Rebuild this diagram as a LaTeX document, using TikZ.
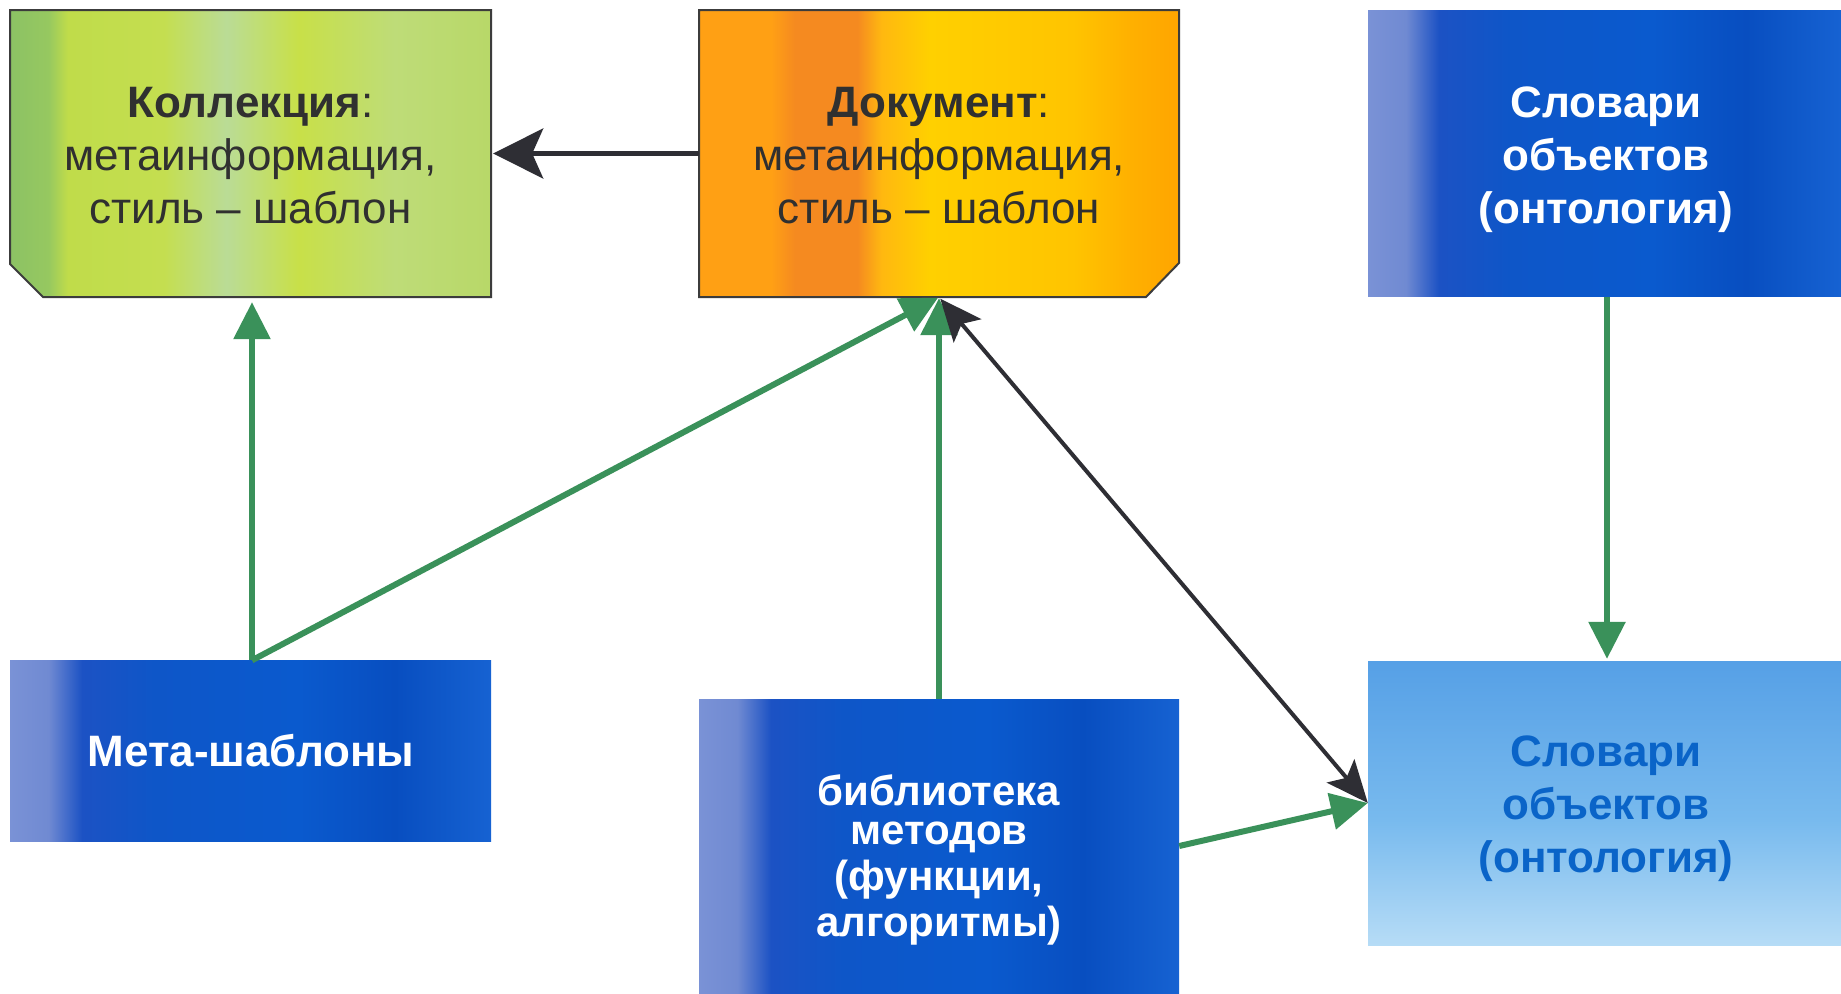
\documentclass[tikz,border=0pt]{standalone}
\usepackage{fontspec}
\setmainfont{Liberation Sans}
\usetikzlibrary{arrows.meta}
\definecolor{garrow}{RGB}{58,145,90}
\definecolor{darr}{RGB}{46,46,52}
\definecolor{bordc}{RGB}{60,60,60}
\definecolor{txtd}{RGB}{48,48,48}
\definecolor{txtl}{RGB}{10,100,200}
% blue
\definecolor{bA}{RGB}{122,146,214}
\definecolor{bB}{RGB}{112,138,210}
\definecolor{bC}{RGB}{28,82,196}
\definecolor{bD}{RGB}{14,86,200}
\definecolor{bE}{RGB}{10,90,206}
\definecolor{bF}{RGB}{8,78,192}
\definecolor{bG}{RGB}{22,98,210}
% green
\definecolor{gA}{RGB}{140,194,100}
\definecolor{gB}{RGB}{150,200,96}
\definecolor{gC}{RGB}{192,220,74}
\definecolor{gD}{RGB}{196,222,80}
\definecolor{gE}{RGB}{186,220,150}
\definecolor{gF}{RGB}{200,224,72}
\definecolor{gG}{RGB}{190,220,120}
\definecolor{gH}{RGB}{184,216,104}
% orange
\definecolor{oA}{RGB}{255,160,20}
\definecolor{oB}{RGB}{245,138,32}
\definecolor{oC}{RGB}{255,184,16}
\definecolor{oD}{RGB}{255,208,0}
\definecolor{oE}{RGB}{255,196,0}
\definecolor{oF}{RGB}{255,176,0}
\definecolor{oG}{RGB}{255,165,0}
% light blue
\definecolor{lA}{RGB}{182,220,246}
\definecolor{lB}{RGB}{120,186,238}
\definecolor{lC}{RGB}{86,160,230}
% stops mapped to 25bp..75bp (the part that covers the path)
\pgfdeclarehorizontalshading{bluesh}{100bp}{color(0bp)=(bA); color(25bp)=(bA); color(29bp)=(bB); color(32.5bp)=(bC); color(40bp)=(bD); color(55bp)=(bE); color(65bp)=(bF); color(75bp)=(bG); color(100bp)=(bG)}
\pgfdeclarehorizontalshading{greensh}{100bp}{color(0bp)=(gA); color(25bp)=(gA); color(29bp)=(gB); color(31bp)=(gC); color(41bp)=(gD); color(47.5bp)=(gE); color(55bp)=(gF); color(65bp)=(gG); color(75bp)=(gH); color(100bp)=(gH)}
\pgfdeclarehorizontalshading{orangesh}{100bp}{color(0bp)=(oA); color(25bp)=(oA); color(32.5bp)=(oA); color(35bp)=(oB); color(41.5bp)=(oB); color(44bp)=(oC); color(49bp)=(oD); color(64bp)=(oE); color(70bp)=(oF); color(75bp)=(oG); color(100bp)=(oG)}
\pgfdeclareverticalshading{lightsh}{100bp}{color(0bp)=(lA); color(25bp)=(lA); color(47bp)=(lB); color(75bp)=(lC); color(100bp)=(lC)}
\tikzset{
  bluebox/.style={rectangle, inner sep=0pt, shading=bluesh},
  lightbox/.style={rectangle, inner sep=0pt, shading=lightsh},
  wtext/.style={inner sep=0pt, text=white, font=\bfseries\fontsize{44}{53}\selectfont, align=center},
  ltext/.style={inner sep=0pt, text=txtl, font=\bfseries\fontsize{44}{53}\selectfont, align=center},
  chambox/.style={line width=2pt, draw=bordc, line join=miter},
  chamtext/.style={rectangle, inner sep=0pt, text=txtd, font=\fontsize{44}{53}\selectfont, align=center},
  garr/.style={draw=garrow, line width=6pt, -{Triangle[length=37pt,width=36pt]}},
  barr/.style={draw=darr, line width=4.5pt, -{Stealth[length=50pt,width=50pt,inset=11pt]}},
  bdarr/.style={draw=darr, line width=4pt, {Stealth[length=42pt,width=36pt,inset=9pt]}-{Stealth[length=42pt,width=36pt,inset=9pt]}}
}
\begin{document}
\begin{tikzpicture}[x=1pt,y=-1pt]
\useasboundingbox (0,0) rectangle (1841,993);
\fill[white] (0,0) rectangle (1841,993);
% chamfered boxes
\path[chambox, shading=greensh] (10,10) -- (491,10) -- (491,297) -- (43,297) -- (10,264) -- cycle;
\path[chambox, shading=orangesh] (699,10) -- (1179,10) -- (1179,263) -- (1146,297) -- (699,297) -- cycle;
\node[chamtext, minimum width=481pt, minimum height=287pt] (coll) at (250.5,153.5) {};
\node[chamtext] (collt) at (250.5,156) {\textbf{Коллекция}:\\метаинформация,\\стиль – шаблон};
\node[chamtext, minimum width=480pt, minimum height=287pt] (doc) at (939,153.5) {};
\node[chamtext] (doct) at (939,156) {\textbf{Документ}:\\метаинформация,\\стиль – шаблон};
\node[bluebox, minimum width=473pt, minimum height=286pt] (dict) at (1604.5,153.5) {};
\node[wtext] (dictt) at (1606,160) {Словари\\объектов\\(онтология)};
\node[bluebox, minimum width=481pt, minimum height=181pt] (meta) at (250.5,751) {};
\node[wtext] (metat) at (251,751) {Мета-шаблоны};
\node[bluebox, minimum width=480pt, minimum height=294pt] (lib) at (939,846) {};
\node[text=white, font=\bfseries\fontsize{42}{46}\selectfont, align=center, inner sep=0pt] (libt) at (939,860) {библиотека\\[-7pt]методов\\(функции,\\алгоритмы)};
\node[lightbox, minimum width=473pt, minimum height=284pt] (onto) at (1604.5,803) {};
\node[ltext] (ontot) at (1606,809) {Словари\\объектов\\(онтология)};
% connectors
\draw[barr, shorten >=2pt] (doc.west) -- (coll.east);
\draw[garr, shorten >=5pt] (meta.north -| 252,0) -- (coll.south -| 252,0);
\draw[garr, shorten >=1pt] (meta.north -| 252,0) -- (doc.south);
\draw[garr, shorten >=1pt] (lib.north) -- (doc.south);
\draw[bdarr, shorten <=2pt] (doc.south) -- (onto.west);
\draw[garr] (lib.east) -- (onto.west);
\draw[garr, shorten >=2pt] (dict.south -| 1607,0) -- (onto.north -| 1607,0);
\end{tikzpicture}
\end{document}
